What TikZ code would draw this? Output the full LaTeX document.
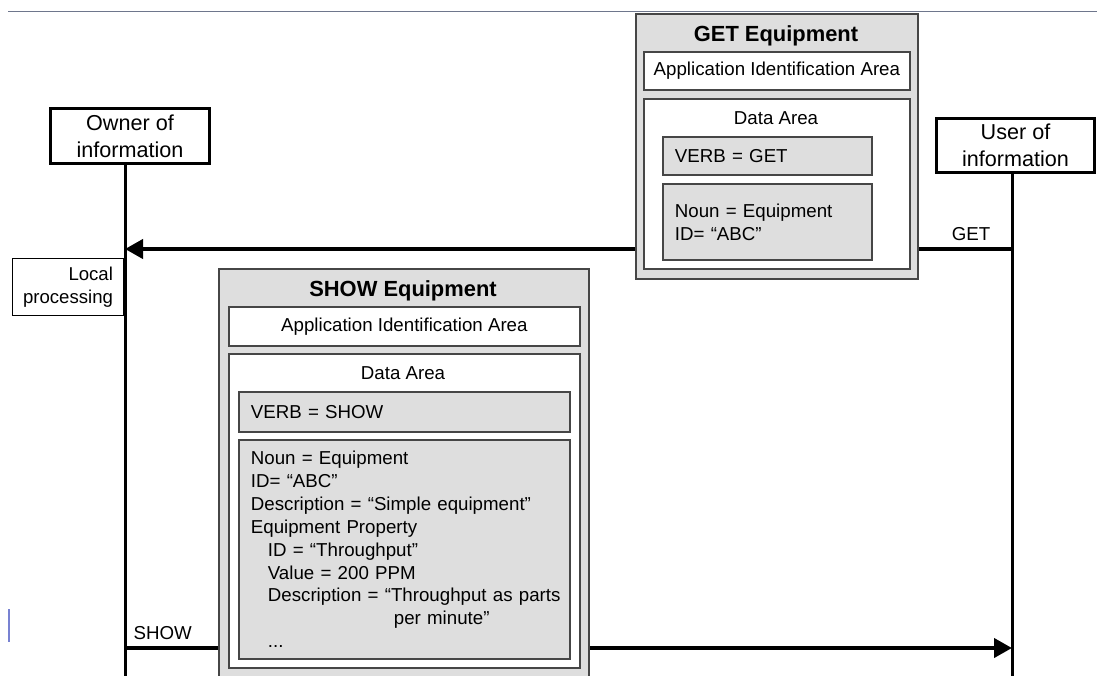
\documentclass[tikz,border=0pt]{standalone}
\usepackage{fontspec}
\setmainfont{Liberation Sans}
\usepackage{tikz}
\usetikzlibrary{arrows.meta, positioning, calc}
\definecolor{msggray}{RGB}{222,222,222}
\definecolor{edgegray}{RGB}{70,70,70}
\definecolor{rulecolor}{RGB}{110,118,140}
\definecolor{markcolor}{RGB}{120,130,210}

\begin{document}
\begin{tikzpicture}[x=1pt, y=-1pt,
    actor/.style={draw, line width=2.7pt, align=center, inner sep=0pt, font=\fontsize{21.6}{27}\selectfont},
    localbox/.style={draw, line width=1.7pt, align=right, inner sep=0pt, font=\fontsize{18.6}{23}\selectfont},
    msgbox/.style={draw=edgegray, fill=msggray, line width=1.8pt, anchor=north west, inner sep=0pt},
    areabox/.style={draw=edgegray, fill=white, line width=1.8pt, anchor=north west, inner sep=0pt, font=\fontsize{18.7}{23}\selectfont},
    fieldbox/.style={draw=edgegray, fill=msggray, line width=1.8pt, anchor=north west, inner xsep=12pt, inner ysep=0pt, align=left, font=\fontsize{18.7}{22.9}\selectfont},
    boxtext/.style={font=\fontsize{18.7}{23}\selectfont},
    msgtitle/.style={font=\fontsize{21.9}{26}\selectfont\bfseries},
    lifeline/.style={line width=3pt},
    message/.style={line width=4pt, -{Triangle[length=18pt, width=19pt]}}]
    \clip (0,0) rectangle (1097,675);

    % Bord du haut
    \draw[rulecolor, line width=1.2pt] (8,11.5) -- (1097,11.5);
    \draw[markcolor, line width=1.2pt] (9,609) -- (9,642);

    % === ACTEURS ===
    \node[actor, minimum width=159pt, minimum height=55pt] (owner) at (130,136) {Owner of\\information};
    \node[actor, minimum width=158pt, minimum height=54pt] (user) at (1015.5,145.5) {User of\\information};
    \coordinate (ownerlife) at ([xshift=-5pt]owner.south);
    \coordinate (userlife) at ([xshift=-3.5pt]user.south);
    \coordinate (bottom) at (0,680);
    \coordinate (getrow) at (0,249);
    \coordinate (showrow) at (0,648);

    % Lignes de vie
    \draw[lifeline] (ownerlife) -- (ownerlife |- bottom);
    \draw[lifeline] (userlife) -- (userlife |- bottom);

    % Messages
    \draw[message] (userlife |- getrow) -- (ownerlife |- getrow);
    \draw[message] (ownerlife |- showrow) -- (userlife |- showrow);
    \node[boxtext, anchor=base] (getlbl) at (971,240) {GET};
    \node[boxtext, anchor=base west] (showlbl) at (130,639) {SHOW};

    % Traitement local
    \node[localbox, minimum width=111pt, minimum height=57pt] (local) at (68,287) {Local\\processing};

    % === GET (droite) ===
    \node[msgbox, minimum width=282pt, minimum height=265pt] (getmsg) at (635,13) {};
    \node[msgtitle, anchor=base] (gettitle) at (776,41) {GET Equipment};
    \node[areabox, minimum width=266pt, minimum height=38pt] (getappid) at (643,51) {Application Identification Area};
    \node[areabox, minimum width=266pt, minimum height=170pt] (getdata) at (643,98) {};
    \node[boxtext, anchor=base] (getdatalbl) at (776,124) {Data Area};
    \node[fieldbox, text width=185pt, minimum height=38pt] (getverb) at (662,136) {VERB = GET};
    \node[fieldbox, text width=185pt, minimum height=76pt] (getnoun) at (662,183) {Noun = Equipment\\ID= “ABC”};

    % === SHOW (gauche) ===
    \node[msgbox, minimum width=370pt, minimum height=430pt] (showmsg) at (218,268) {};
    \node[msgtitle, anchor=base] (showtitle) at (403,296) {SHOW Equipment};
    \node[areabox, minimum width=351pt, minimum height=39pt] (showappid) at (228,306) {Application Identification Area};
    \node[areabox, minimum width=351pt, minimum height=314pt] (showdata) at (228,353) {};
    \node[boxtext, anchor=base] (showdatalbl) at (403,379) {Data Area};
    \node[fieldbox, text width=307pt, minimum height=40pt] (showverb) at (238,391) {VERB = SHOW};
    \node[fieldbox, text width=307pt, minimum height=219pt] (shownoun) at (238,439) {Noun = Equipment\\
        ID= “ABC”\\
        Description = “Simple equipment”\\
        Equipment Property\\
        \hspace*{17pt}ID = “Throughput”\\
        \hspace*{17pt}Value = 200 PPM\\
        \hspace*{17pt}\makebox[0pt][l]{Description = “Throughput as parts}\\
        \hspace*{143pt}per minute”\\
        \hspace*{17pt}...};
\end{tikzpicture}
\end{document}
